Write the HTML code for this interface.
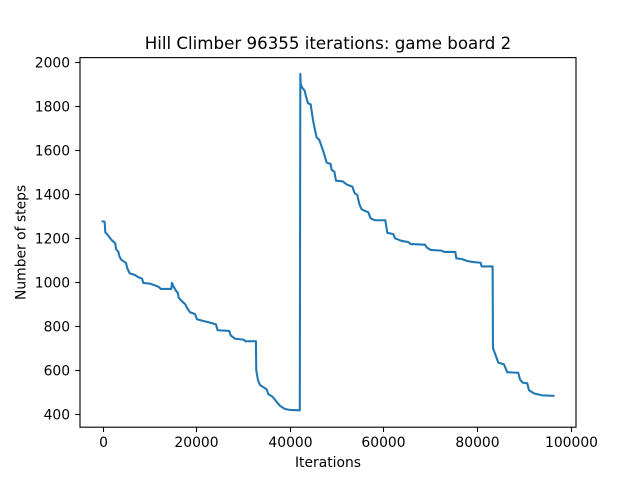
<!DOCTYPE html>
<html>
<head>
<meta charset="utf-8">
<title>Hill Climber chart</title>
<style>
html,body{margin:0;padding:0;background:#fff;}
svg{display:block;}
text{font-family:"DejaVu Sans","Liberation Sans",sans-serif;fill:#000;}
</style>
</head>
<body>
<svg id="chart" width="640" height="480" viewBox="0 0 640 480" xmlns="http://www.w3.org/2000/svg">
<rect x="0" y="0" width="640" height="480" fill="#fff"/>
<rect x="80" y="57.6" width="496" height="369.6" fill="#fff"/>
<g id="ticks"></g>
<polyline id="series" fill="none" stroke="#1f77b4" stroke-width="2.08" stroke-linejoin="round" stroke-linecap="square"/>
<rect x="80" y="57.6" width="496" height="369.6" fill="none" stroke="#000" stroke-width="1.11"/>
<text x="328" y="49" font-size="16.67" text-anchor="middle">Hill Climber 96355 iterations: game board 2</text>
<text x="328" y="467" font-size="13.89" text-anchor="middle">Iterations</text>
<text x="0" y="0" font-size="13.89" text-anchor="middle" transform="translate(25.5,242.4) rotate(-90)">Number of steps</text>
</svg>
<script>
const iterations = [0,450,592,1304,1945,2728,2871,3369,3582,3938,5007,5291,5790,6929,7641,8424,8709,10133,11201,11913,12483,14690,14832,15117,15687,16114,16256,16826,17680,18107,18677,19745,20172,21525,22949,24231,24587,27078,27363,28289,30211,30496,32775,32846,33201,33629,35053,35409,36335,37189,37901,39000,40000,42100,42150,42264,42335,42620,43190,43475,43902,44471,44756,45041,45397,45753,46323,46821,47319,47889,48743,48957,49527,49883,51307,52161,53371,53870,54439,54866,55365,56789,57287,58213,60421,60857,62139,62495,63919,65343,65841,68903,69259,70113,72463,73033,75382,75596,76735,77945,79227,80793,81007,83357,83428,83855,84567,85777,86489,88839,89195,89760,90760,91115,92180,93960,96355];
const steps = [1277,1275,1227,1210,1192,1177,1151,1139,1120,1104,1088,1064,1041,1033,1023,1017,997,994,986,980,970,970,998,983,962,950,930,917,900,882,864,856,832,824,817,809,782,779,759,744,739,732,732,601,556,533,514,492,480,457,439,424,420,418,418,1947,1904,1886,1871,1844,1814,1809,1768,1730,1692,1659,1647,1617,1586,1544,1538,1511,1503,1462,1459,1445,1435,1405,1397,1356,1332,1318,1291,1282,1282,1225,1219,1200,1188,1183,1174,1171,1159,1147,1144,1138,1138,1109,1106,1097,1092,1089,1072,1072,700,677,635,627,591,589,559,544,541,510,495,486,484];
const xTickValues = [0,20000,40000,60000,80000,100000];
const yTickValues = [400,600,800,1000,1200,1400,1600,1800,2000];

const xDomain = [-4818, 101173];
const yDomain = [341.4, 2021.4];
const plotLeft = 80, plotRight = 576, plotTop = 57.6, plotBottom = 427.2;
function xScale(v){ return plotLeft + (v - xDomain[0]) / (xDomain[1] - xDomain[0]) * (plotRight - plotLeft); }
function yScale(v){ return plotBottom - (v - yDomain[0]) / (yDomain[1] - yDomain[0]) * (plotBottom - plotTop); }

const NS = 'http://www.w3.org/2000/svg';
const tickGroup = document.getElementById('ticks');

xTickValues.forEach(function(v){
  const px = Math.round(xScale(v)) + 0.5;
  const tick = document.createElementNS(NS, 'line');
  
  
  tick.setAttribute('x1', px);
  tick.setAttribute('x2', px);
  tick.setAttribute('y1', plotBottom);
  tick.setAttribute('y2', plotBottom + 4.86);
  tick.setAttribute('stroke', '#000');
  tick.setAttribute('stroke-width', '1.11');
  tickGroup.appendChild(tick);
  const label = document.createElementNS(NS, 'text');
  
  
  label.setAttribute('x', px);
  label.setAttribute('y', 447);
  label.setAttribute('font-size', '13.89');
  label.setAttribute('text-anchor', 'middle');
  label.textContent = String(v);
  tickGroup.appendChild(label);
});

yTickValues.forEach(function(v){
  const py = Math.round(yScale(v)) + 0.5;
  const tick = document.createElementNS(NS, 'line');
  
  
  tick.setAttribute('x1', plotLeft - 4.86);
  tick.setAttribute('x2', plotLeft);
  tick.setAttribute('y1', py);
  tick.setAttribute('y2', py);
  tick.setAttribute('stroke', '#000');
  tick.setAttribute('stroke-width', '1.11');
  tickGroup.appendChild(tick);
  const label = document.createElementNS(NS, 'text');
  
  
  label.setAttribute('x', plotLeft - 9.9);
  label.setAttribute('y', py + 4.8);
  label.setAttribute('font-size', '13.89');
  label.setAttribute('text-anchor', 'end');
  label.textContent = String(v);
  tickGroup.appendChild(label);
});

document.getElementById('series').setAttribute('points', iterations.map(function(v, i){
  return xScale(v).toFixed(2) + ',' + yScale(steps[i]).toFixed(2);
}).join(' '));
</script>
</body>
</html>
